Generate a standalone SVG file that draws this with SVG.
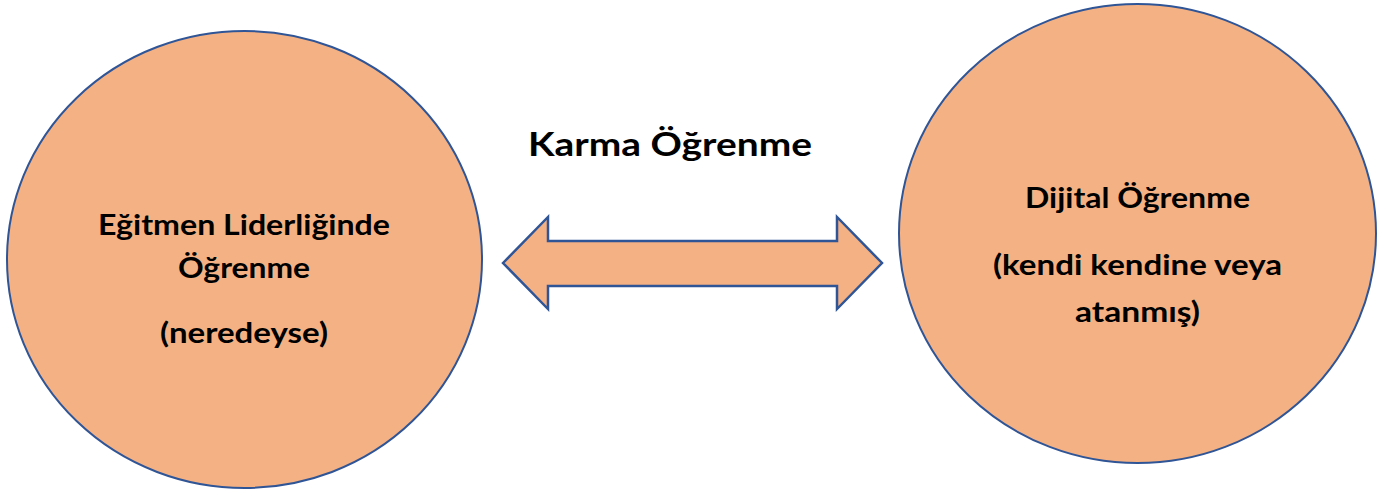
<svg xmlns="http://www.w3.org/2000/svg" width="1389" height="491" viewBox="0 0 1389 491">
<style>
.node{fill:#F4B183;stroke:#2F5597;stroke-width:2}
.arrow{fill:#F4B183;stroke:#2F5597;stroke-width:2.5;stroke-linejoin:miter}
text{font-family:Lato,"Open Sans","Liberation Sans",sans-serif;font-weight:bold;fill:#000;text-anchor:middle}
.lbl{font-size:29px}
.title{font-size:33px}
</style>
<rect width="1389" height="491" fill="#fff"/>
<g id="connectors">
<path class="arrow" d="M503,263 L548,217 L548,241 L837,241 L837,217 L882,263 L837,309 L837,286 L548,286 L548,309 Z"/>
</g>
<g id="title">
<text class="title" x="670" y="156" textLength="284" lengthAdjust="spacingAndGlyphs">Karma Öğrenme</text>
</g>
<g id="node-left">
<ellipse class="node" cx="244.5" cy="259.5" rx="237.5" ry="228.5"/>
<text class="lbl" x="244" y="235" textLength="292" lengthAdjust="spacingAndGlyphs">Eğitmen Liderliğinde</text>
<text class="lbl" x="244" y="278" textLength="132" lengthAdjust="spacingAndGlyphs">Öğrenme</text>
<text class="lbl" x="244" y="343" textLength="168" lengthAdjust="spacingAndGlyphs">(neredeyse)</text>
</g>
<g id="node-right">
<ellipse class="node" cx="1137.5" cy="233.5" rx="238.5" ry="229.5"/>
<text class="lbl" x="1137.5" y="208" textLength="225" lengthAdjust="spacingAndGlyphs">Dijital Öğrenme</text>
<text class="lbl" x="1137.5" y="275" textLength="289" lengthAdjust="spacingAndGlyphs">(kendi kendine veya</text>
<text class="lbl" x="1137.5" y="322" textLength="125" lengthAdjust="spacingAndGlyphs">atanmış)</text>
</g>
</svg>
